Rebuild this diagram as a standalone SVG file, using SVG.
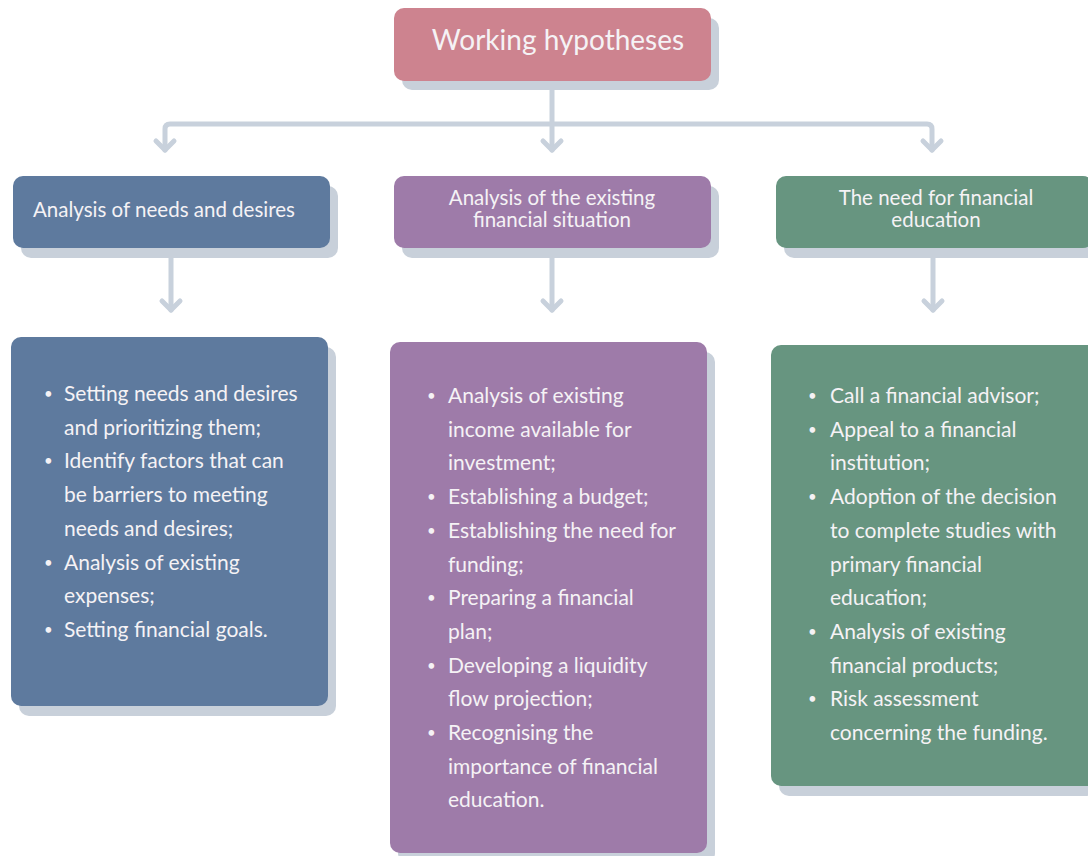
<svg xmlns="http://www.w3.org/2000/svg" width="1088" height="856" viewBox="0 0 1088 856">
<style>
.sh{fill:#C8D0DA}
.bl{fill:#5E7A9E}
.pu{fill:#9E7BA9}
.gr{fill:#679580}
.pk{fill:#CD838F}
text{font-family:Lato,"Noto Sans",sans-serif;fill:#F5F2F5}
.t{font-size:28px}
.h{font-size:20.5px}
.b{font-size:21px}
.d{font-size:15px}
.c{stroke:#C8D1DC;stroke-width:5;fill:none;stroke-linecap:round;stroke-linejoin:round}
</style>
<defs>
<marker id="ah" markerUnits="userSpaceOnUse" markerWidth="30" markerHeight="30" viewBox="-15 -15 30 30" refX="0" refY="0" orient="auto-start-reverse" overflow="visible">
<path d="M-9,-9 L0,0 L-9,9" fill="none" stroke="#C8D1DC" stroke-width="5" stroke-linecap="round" stroke-linejoin="round"/>
</marker>
</defs>
<g id="connectors">
<path class="c" d="M552 90 V150" marker-end="url(#ah)"/>
<path class="c" d="M165 150 V129 Q165 124 170 124 H927 Q932 124 932 129 V150" marker-start="url(#ah)" marker-end="url(#ah)"/>
<path class="c" d="M171 258 V310" marker-end="url(#ah)"/>
<path class="c" d="M552 258 V310" marker-end="url(#ah)"/>
<path class="c" d="M933 258 V310" marker-end="url(#ah)"/>
</g>
<g id="title">
<rect class="sh" x="402" y="18" width="317" height="72" rx="10"/>
<rect class="pk" x="394" y="8" width="317" height="73" rx="10"/>
<text class="t" x="558" y="50" text-anchor="middle">Working hypotheses</text>
</g>
<g id="h-needs">
<rect class="sh" x="21" y="186" width="317" height="72" rx="10"/>
<rect class="bl" x="13" y="176" width="317" height="72" rx="10"/>
<text class="h" x="164" y="217" text-anchor="middle">Analysis of needs and desires</text>
</g>
<g id="h-situation">
<rect class="sh" x="402" y="186" width="317" height="72" rx="10"/>
<rect class="pu" x="394" y="176" width="317" height="72" rx="10"/>
<text class="h" text-anchor="middle"><tspan x="552" y="205">Analysis of the existing</tspan><tspan x="552" y="227">financial situation</tspan></text>
</g>
<g id="h-education">
<rect class="sh" x="784" y="186" width="317" height="72" rx="10"/>
<rect class="gr" x="776" y="176" width="317" height="72" rx="10"/>
<text class="h" text-anchor="middle"><tspan x="936" y="205">The need for financial</tspan><tspan x="936" y="227">education</tspan></text>
</g>
<g id="b-needs">
<rect class="sh" x="19" y="347" width="317" height="369" rx="10"/>
<rect class="bl" x="11" y="337" width="317" height="369" rx="10"/>
<g class="b">
<text class="d" x="44" y="399">•</text><text x="64" y="401">Setting needs and desires</text>
<text x="64" y="434.7">and prioritizing them;</text>
<text class="d" x="44" y="466.4">•</text><text x="64" y="468.4">Identify factors that can</text>
<text x="64" y="502.1">be barriers to meeting</text>
<text x="64" y="535.8">needs and desires;</text>
<text class="d" x="44" y="567.5">•</text><text x="64" y="569.5">Analysis of existing</text>
<text x="64" y="603.2">expenses;</text>
<text class="d" x="44" y="634.9">•</text><text x="64" y="636.9">Setting financial goals.</text>
</g>
</g>
<g id="b-situation">
<rect class="sh" x="398" y="352" width="317" height="511" rx="10"/>
<rect class="pu" x="390" y="342" width="317" height="511" rx="10"/>
<g class="b">
<text class="d" x="427" y="401">•</text><text x="448" y="403">Analysis of existing</text>
<text x="448" y="436.7">income available for</text>
<text x="448" y="470.4">investment;</text>
<text class="d" x="427" y="502.1">•</text><text x="448" y="504.1">Establishing a budget;</text>
<text class="d" x="427" y="535.8">•</text><text x="448" y="537.8">Establishing the need for</text>
<text x="448" y="571.5">funding;</text>
<text class="d" x="427" y="603.2">•</text><text x="448" y="605.2">Preparing a financial</text>
<text x="448" y="638.9">plan;</text>
<text class="d" x="427" y="670.6">•</text><text x="448" y="672.6">Developing a liquidity</text>
<text x="448" y="706.3">flow projection;</text>
<text class="d" x="427" y="738">•</text><text x="448" y="740">Recognising the</text>
<text x="448" y="773.7">importance of financial</text>
<text x="448" y="807.4">education.</text>
</g>
</g>
<g id="b-education">
<rect class="sh" x="779" y="355" width="317" height="441" rx="10"/>
<rect class="gr" x="771" y="345" width="327" height="441" rx="10"/>
<g class="b">
<text class="d" x="808" y="401">•</text><text x="830" y="403">Call a financial advisor;</text>
<text class="d" x="808" y="434.7">•</text><text x="830" y="436.7">Appeal to a financial</text>
<text x="830" y="470.4">institution;</text>
<text class="d" x="808" y="502.1">•</text><text x="830" y="504.1">Adoption of the decision</text>
<text x="830" y="537.8">to complete studies with</text>
<text x="830" y="571.5">primary financial</text>
<text x="830" y="605.2">education;</text>
<text class="d" x="808" y="636.9">•</text><text x="830" y="638.9">Analysis of existing</text>
<text x="830" y="672.6">financial products;</text>
<text class="d" x="808" y="704.3">•</text><text x="830" y="706.3">Risk assessment</text>
<text x="830" y="740">concerning the funding.</text>
</g>
</g>
</svg>
